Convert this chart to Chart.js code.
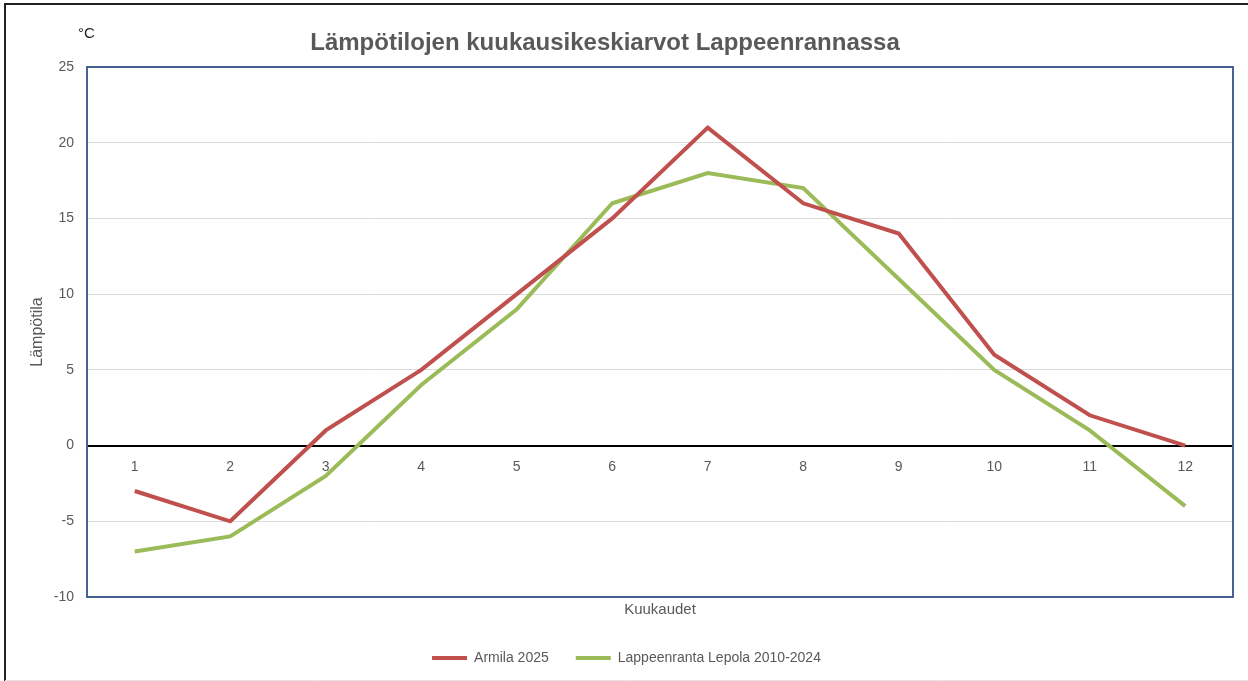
<!DOCTYPE html>
<html>
<head>
<meta charset="utf-8">
<script src="https://cdn.jsdelivr.net/npm/chart.js@4"></script>
<style>
html,body{margin:0;padding:0;background:#fff;}
#wrap{width:1248px;height:681px;position:relative;}
</style>
</head>
<body>
<div id="wrap"><canvas id="c" width="1248" height="681"></canvas></div>
<script>
const months = ['1','2','3','4','5','6','7','8','9','10','11','12'];
const armila2025 = [-3, -5, 1, 5, 10, 15, 21, 16, 14, 6, 2, 0];
const lepola20102024 = [-7, -6, -2, 4, 9, 16, 18, 17, 11, 5, 1, -4];
const seriesNames = ['Armila 2025', 'Lappeenranta Lepola 2010-2024'];
const chartTitle = 'Lämpötilojen kuukausikeskiarvot Lappeenrannassa';
const unitLabel = '°C';
const yTitle = 'Lämpötila';
const xTitle = 'Kuukaudet';

const FONT = "'Liberation Sans', Arial, sans-serif";
const GRAY = '#595959';

const decor = {
  id: 'decor',
  beforeDatasetsDraw(chart) {
    const {ctx, chartArea: a} = chart;
    ctx.save();
    ctx.strokeStyle = '#46638F';
    ctx.lineWidth = 2;
    ctx.strokeRect(a.left, a.top, a.right - a.left, a.bottom - a.top);
    ctx.restore();
  },
  afterDraw(chart) {
    const {ctx} = chart;
    ctx.save();
    ctx.strokeStyle = '#222';
    ctx.lineWidth = 2;
    ctx.beginPath();
    ctx.moveTo(5, 681); ctx.lineTo(5, 4); ctx.lineTo(1248, 4);
    ctx.stroke();
    ctx.strokeStyle = '#e4e4e4';
    ctx.lineWidth = 1;
    ctx.beginPath();
    ctx.moveTo(5, 680.5); ctx.lineTo(1248, 680.5);
    ctx.stroke();
    ctx.fillStyle = GRAY;
    ctx.font = "bold 24px " + FONT;
    ctx.textAlign = 'center';
    ctx.textBaseline = 'middle';
    ctx.fillText(chartTitle, 605, 43);
    ctx.fillStyle = '#222';
    ctx.font = "15px " + FONT;
    ctx.textAlign = 'left';
    ctx.fillText(unitLabel, 78, 34);
    ctx.restore();
  }
};

new Chart(document.getElementById('c'), {
  type: 'line',
  data: {
    labels: months,
    datasets: [
      {label: seriesNames[0], data: armila2025, borderColor: '#C0504D', backgroundColor: '#C0504D',
       borderWidth: 4, pointRadius: 0, tension: 0, xAxisID: 'x', yAxisID: 'y'},
      {label: seriesNames[1], data: lepola20102024, borderColor: '#9BBB59', backgroundColor: '#9BBB59',
       borderWidth: 4, pointRadius: 0, tension: 0, xAxisID: 'x', yAxisID: 'y'}
    ]
  },
  options: {
    responsive: false,
    animation: false,
    devicePixelRatio: 1,
    layout: {padding: {left: 20, right: 15, top: 67, bottom: 6}},
    plugins: {
      title: {display: false},
      tooltip: {enabled: false},
      legend: {
        position: 'bottom',
        labels: {
          boxWidth: 35, boxHeight: 4, padding: 27,
          color: GRAY, font: {family: FONT, size: 14},
          generateLabels(chart) {
            const items = Chart.defaults.plugins.legend.labels.generateLabels(chart);
            items.forEach(it => { it.lineWidth = 0; });
            return items;
          }
        }
      }
    },
    scales: {
      x: {
        type: 'category',
        position: {y: 0},
        offset: true,
        grid: {display: false, drawTicks: false},
        border: {display: true, color: '#000', width: 2},
        ticks: {color: GRAY, font: {family: FONT, size: 14}, padding: 13, maxRotation: 0}
      },
      x2: {
        type: 'category',
        position: 'bottom',
        offset: true,
        grid: {display: false, drawTicks: false},
        border: {display: false},
        ticks: {display: false},
        title: {display: true, text: xTitle, color: GRAY, font: {family: FONT, size: 15}, padding: {top: 0, bottom: 5}},
        afterFit(s) { s.height = 27; }
      },
      y: {
        min: -10, max: 25,
        ticks: {stepSize: 5, color: GRAY, font: {family: FONT, size: 14}, padding: 13},
        grid: {color: '#D9D9D9', lineWidth: 1, drawTicks: false},
        border: {display: false},
        title: {display: true, text: yTitle, color: GRAY, font: {family: FONT, size: 16}, padding: {top: 8, bottom: 0}},
        afterFit(s) { s.width = 67; }
      }
    }
  },
  plugins: [decor]
});
</script>
</body>
</html>
